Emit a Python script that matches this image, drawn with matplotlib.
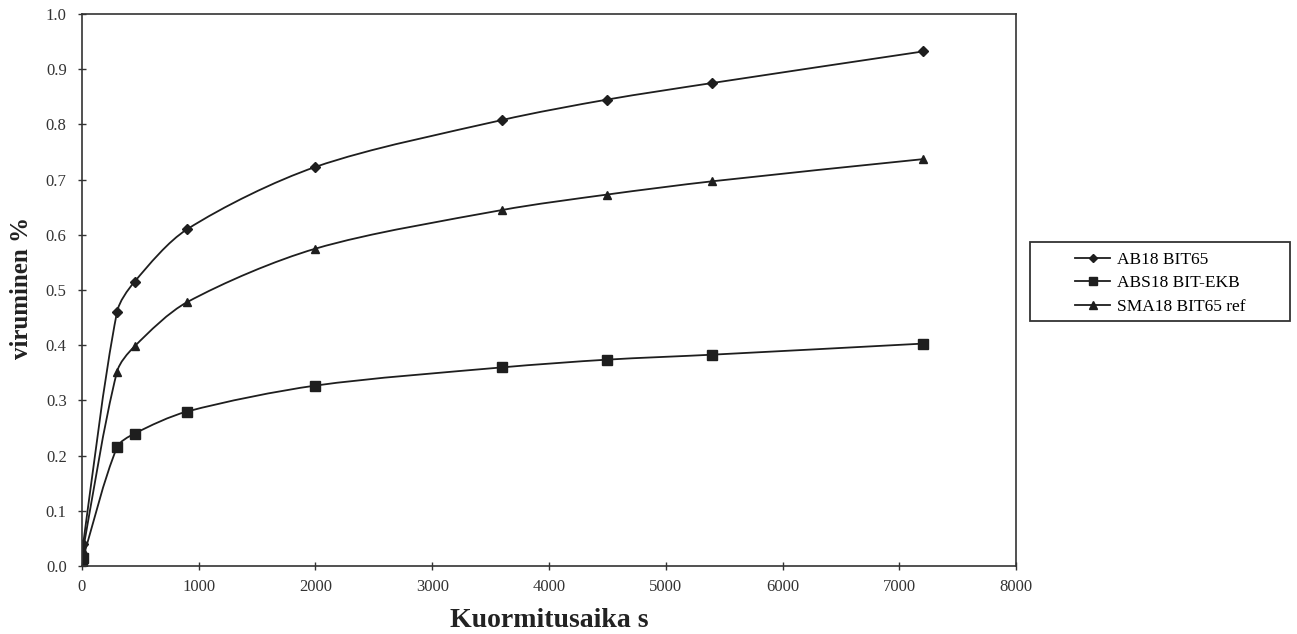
import numpy as np
import matplotlib
matplotlib.use("Agg")
import matplotlib.pyplot as plt
from matplotlib.path import Path
from matplotlib.patches import PathPatch, Rectangle
from matplotlib.lines import Line2D

plt.rcParams['font.family'] = ['Liberation Serif', 'DejaVu Serif']

# kuormitusaika (s)
aika = [0, 10, 300, 450, 900, 2000, 3600, 4500, 5400, 7200]
ab18 = [0.0, 0.04, 0.46, 0.515, 0.61, 0.723, 0.808, 0.845, 0.875, 0.932]
abs18 = [0.0, 0.015, 0.215, 0.24, 0.28, 0.327, 0.36, 0.374, 0.383, 0.403]
sma18 = [0.0, 0.03, 0.352, 0.398, 0.478, 0.575, 0.645, 0.673, 0.697, 0.737]

nimet = ['AB18 BIT65', 'ABS18 BIT-EKB', 'SMA18 BIT65 ref']
merkit = ['D', 's', '^']
koot = [5, 6.5, 6]
vari = '#1e1e1e'


def smooth_path(ax, x, y, k=0.3):
    # pehmennetty viiva pisteiden kautta, tangentit lasketaan pikseleissa
    P = ax.transData.transform(np.column_stack([x, y]))
    n = len(P)
    tang = []
    for i in range(n):
        d = P[min(i + 1, n - 1)] - P[max(i - 1, 0)]
        tang.append(d / (np.hypot(*d) + 1e-9))
    verts = [P[0]]
    codes = [Path.MOVETO]
    for i in range(n - 1):
        L = np.hypot(*(P[i + 1] - P[i]))
        verts += [P[i] + tang[i] * L * k, P[i + 1] - tang[i + 1] * L * k, P[i + 1]]
        codes += [Path.CURVE4] * 3
    verts = ax.transData.inverted().transform(np.array(verts))
    return Path(verts, codes)


fig = plt.figure(figsize=(12.97, 6.34), dpi=100)
ax = fig.add_axes([0.0632, 0.107, 0.7202, 0.871])
ax.set_xlim(0, 8000)
ax.set_ylim(0, 1.0)

for y, m, k in zip([ab18, abs18, sma18], merkit, koot):
    ax.add_patch(PathPatch(smooth_path(ax, aika, y), fill=False, edgecolor=vari, lw=1.3))
    ax.plot(aika, y, linestyle='none', marker=m, markersize=k, color=vari)

ax.set_xticks(range(0, 8001, 1000))
ax.set_yticks(np.arange(0, 1.01, 0.1))
ax.yaxis.set_major_formatter(matplotlib.ticker.FormatStrFormatter('%.1f'))
ax.tick_params(direction='inout', length=6, labelsize=12, width=1, colors='#333333')
ax.tick_params(axis='x', pad=6)
ax.tick_params(axis='y', pad=8)
for s in ax.spines.values():
    s.set_linewidth(1.2)
    s.set_color('#333333')

ax.set_xlabel('Kuormitusaika s', fontsize=20, fontweight='bold', color='#222222')
ax.xaxis.set_label_coords(0.5, -0.098)
ax.xaxis.label.set_va('center')
ax.set_ylabel('viruminen %', fontsize=18, fontweight='bold', color='#222222')
ax.yaxis.set_label_coords(-0.065, 0.504)
ax.yaxis.label.set_va('center')

# selitelaatikko
fig.patches.append(Rectangle((0.794, 0.4937), 0.2005, 0.1246, transform=fig.transFigure,
                             fill=False, edgecolor='#333333', lw=1.3))
kahvat = [Line2D([0], [0], color=vari, lw=1.3, marker=m, markersize=k * 0.85)
          for m, k in zip(merkit, koot)]
fig.legend(kahvat, nimet, loc='upper left', bbox_to_anchor=(0.829, 0.603),
           fontsize=12.5, frameon=False, handlelength=2.0, borderpad=0,
           borderaxespad=0, labelspacing=0.42, handletextpad=0.4)

fig.savefig('out.png', dpi=100)
